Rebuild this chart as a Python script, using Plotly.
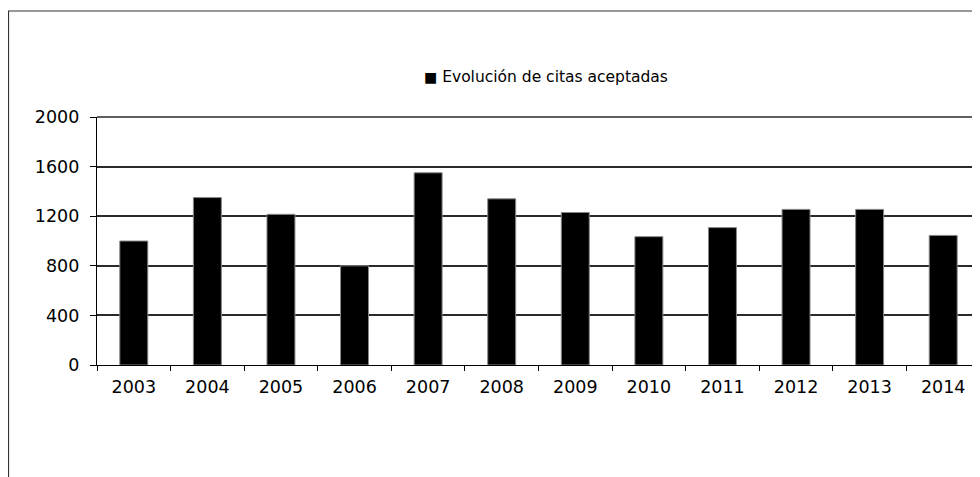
import plotly.graph_objects as go

years = ["2003", "2004", "2005", "2006", "2007", "2008", "2009", "2010", "2011", "2012", "2013", "2014"]
citas = [1000, 1350, 1215, 800, 1550, 1340, 1230, 1035, 1108, 1255, 1255, 1045]
y_ticks = [0, 400, 800, 1200, 1600, 2000]
series_name = "Evolución de citas aceptadas"

# page body adds an 8px offset; figure coords = screen coords - 8
OFF = 8
W, H = 980 - OFF, 477 - OFF
L, R, T, B = 97 - OFF, 0, 117 - OFF, 477 - 365
pw, ph = W - L - R, H - T - B

fig = go.Figure()
fig.add_trace(go.Bar(
    x=years, y=citas, name=series_name,
    marker=dict(color="black", line=dict(color="#888888", width=1)),
    showlegend=False,
))

# outer chart border (left & top visible, rest cropped)
bx0 = (8.5 - OFF - L) / pw
by1 = (365 - 11) / ph
fig.add_shape(type="rect", xref="paper", yref="paper",
              x0=bx0, x1=1.2, y0=-1.0, y1=by1,
              line=dict(color="#333333", width=1.2), fillcolor="rgba(0,0,0,0)", layer="below")

# top gridline (plotly skips the grid line on the range edge)
fig.add_shape(type="line", xref="paper", yref="paper", x0=0, x1=1, y0=1, y1=1,
              line=dict(color="#2a2a2a", width=1.5), layer="above")

# legend-like label
fig.add_annotation(xref="paper", yref="paper",
                   x=(545.5 - 97) / pw, y=(365 - 77) / ph, xanchor="center", yanchor="middle",
                   text="<span style='font-size:14px'>■</span> " + series_name,
                   showarrow=False, font=dict(size=15.5, color="black"))

fig.update_layout(
    width=W, height=H,
    margin=dict(l=L, r=R, t=T, b=B, pad=0),
    paper_bgcolor="white", plot_bgcolor="white",
    font=dict(family="DejaVu Sans", size=17.5, color="black"),
    bargap=0.62,
    showlegend=False,
    xaxis=dict(type="category", showline=True, linecolor="black", linewidth=1.2,
               ticks="outside", tickson="boundaries", ticklen=5, tickcolor="black", tickwidth=1.2,
               showgrid=False, zeroline=False, tickfont=dict(size=17.5), ticklabelstandoff=6),
    yaxis=dict(range=[0, 2000], tickvals=y_ticks, showline=True, linecolor="black", linewidth=1.2,
               ticks="outside", ticklen=6, tickcolor="black", tickwidth=1.2,
               showgrid=True, gridcolor="#2a2a2a", gridwidth=1.5, zeroline=False,
               ticklabelstandoff=7, tickfont=dict(size=17.5)),
)

fig.write_html("out.html")
